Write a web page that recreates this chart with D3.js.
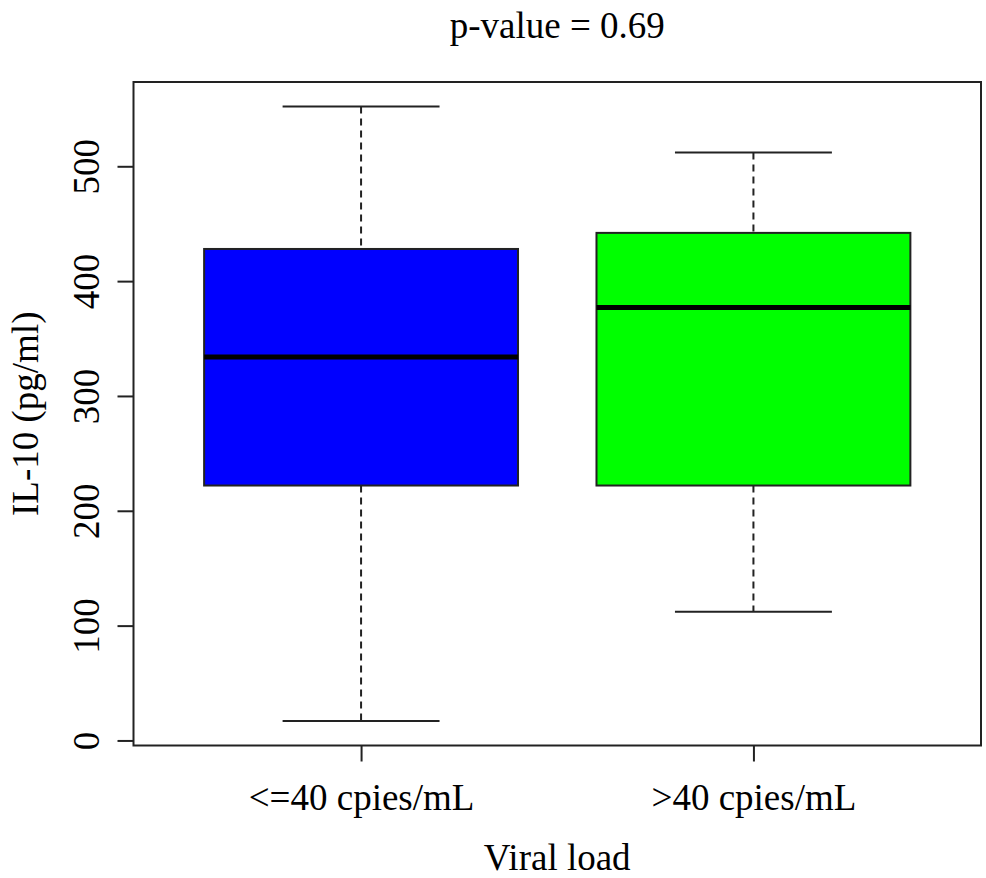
<!DOCTYPE html>
<html>
<head>
<meta charset="utf-8">
<script src="https://cdn.jsdelivr.net/npm/d3@7"></script>
<style>
  body { margin: 0; background: #fff; }
  svg text { font-family: "Liberation Serif", "Times New Roman", serif; fill: #000; }
</style>
</head>
<body>
<script>
// box statistics
const groups = ["<=40 cpies/mL", ">40 cpies/mL"];
const lowWhisker = [17, 112];
const q1 = [222, 222];
const medians = [334, 377];
const q3 = [428, 442];
const highWhisker = [552, 512];
const fills = ["#0000ff", "#00ff00"];
const yTicks = [0, 100, 200, 300, 400, 500];

const width = 986, height = 878;
const margin = {top: 82, right: 5, bottom: 132.5, left: 133.5};
const plotW = width - margin.left - margin.right;
const plotH = height - margin.top - margin.bottom;

const svg = d3.select("body").append("svg")
    .attr("width", width)
    .attr("height", height);

const g = svg.append("g")
    .attr("transform", `translate(${margin.left},${margin.top})`);

// R style 4% extension of the ranges
const lo = d3.min(lowWhisker), hi = d3.max(highWhisker);
const ext = (hi - lo) * 0.04;
const y = d3.scaleLinear()
    .domain([lo - ext, hi + ext])
    .range([plotH, 0]);

const x = d3.scaleLinear()
    .domain([0.42, 2.58])
    .range([0, plotW]);

const boxHalf = 0.4, capHalf = 0.2;

const boxes = g.selectAll(".box")
    .data(groups)
    .enter().append("g")
    .attr("class", "box");

// whiskers
boxes.append("line")
    .attr("x1", (d, i) => x(i + 1)).attr("x2", (d, i) => x(i + 1))
    .attr("y1", (d, i) => y(highWhisker[i])).attr("y2", (d, i) => y(q3[i]))
    .attr("stroke", "#222").attr("stroke-width", 2).attr("stroke-dasharray", "7,5");
boxes.append("line")
    .attr("x1", (d, i) => x(i + 1)).attr("x2", (d, i) => x(i + 1))
    .attr("y1", (d, i) => y(q1[i])).attr("y2", (d, i) => y(lowWhisker[i]))
    .attr("stroke", "#222").attr("stroke-width", 2).attr("stroke-dasharray", "7,5");

// caps
[highWhisker, lowWhisker].forEach(arr => {
  boxes.append("line")
      .attr("x1", (d, i) => x(i + 1 - capHalf)).attr("x2", (d, i) => x(i + 1 + capHalf))
      .attr("y1", (d, i) => y(arr[i])).attr("y2", (d, i) => y(arr[i]))
      .attr("stroke", "#222").attr("stroke-width", 2);
});

// boxes
boxes.append("rect")
    .attr("x", (d, i) => x(i + 1 - boxHalf))
    .attr("width", (d, i) => x(i + 1 + boxHalf) - x(i + 1 - boxHalf))
    .attr("y", (d, i) => y(q3[i]))
    .attr("height", (d, i) => y(q1[i]) - y(q3[i]))
    .attr("fill", (d, i) => fills[i])
    .attr("stroke", "#222").attr("stroke-width", 2);

// medians
boxes.append("line")
    .attr("x1", (d, i) => x(i + 1 - boxHalf)).attr("x2", (d, i) => x(i + 1 + boxHalf))
    .attr("y1", (d, i) => y(medians[i])).attr("y2", (d, i) => y(medians[i]))
    .attr("stroke", "#000").attr("stroke-width", 5);

// frame
g.append("rect")
    .attr("width", plotW).attr("height", plotH)
    .attr("fill", "none").attr("stroke", "#222").attr("stroke-width", 2);

// y axis
const yAxis = g.append("g")
    .call(d3.axisLeft(y).tickValues(yTicks).tickSize(16).tickFormat(""));
yAxis.select(".domain").remove();
yAxis.selectAll(".tick line").attr("stroke", "#222").attr("stroke-width", 2);
yAxis.selectAll(".tick").append("text")
    .attr("transform", "translate(-35,0) rotate(-90)")
    .attr("text-anchor", "middle")
    .style("font-size", "37px")
    .text(d => d);

// x axis
const xAxis = g.append("g")
    .attr("transform", `translate(0,${plotH})`)
    .call(d3.axisBottom(x).tickValues([1, 2]).tickSize(16).tickFormat(""));
xAxis.select(".domain").remove();
xAxis.selectAll(".tick line").attr("stroke", "#222").attr("stroke-width", 2);
xAxis.selectAll(".tick").append("text")
    .attr("y", 64)
    .attr("text-anchor", "middle")
    .style("font-size", "37px")
    .text((d, i) => groups[i]);

// labels
svg.append("text")
    .attr("x", margin.left + plotW / 2).attr("y", 38)
    .attr("text-anchor", "middle")
    .style("font-size", "37px")
    .text("p-value = 0.69");

svg.append("text")
    .attr("x", margin.left + plotW / 2).attr("y", 870)
    .attr("text-anchor", "middle")
    .style("font-size", "37px")
    .text("Viral load");

svg.append("text")
    .attr("transform", `translate(38,${margin.top + plotH / 2}) rotate(-90)`)
    .attr("text-anchor", "middle")
    .style("font-size", "37px")
    .text("IL-10 (pg/ml)");
</script>
</body>
</html>
